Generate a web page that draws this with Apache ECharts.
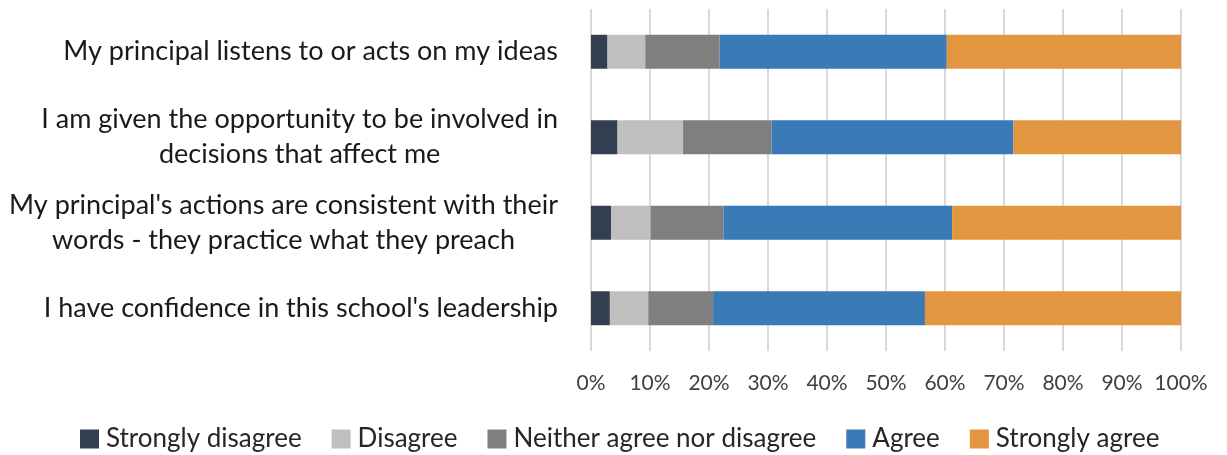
<!DOCTYPE html>
<html>
<head>
<meta charset="utf-8">
<script src="https://cdn.jsdelivr.net/npm/echarts@6/dist/echarts.min.js"></script>
<style>html,body{margin:0;padding:0;background:#fff;}#c{width:1227px;height:455px;}</style>
</head>
<body>
<div id="c"></div>
<script>
var categories = [
  "My principal listens to or acts on my ideas",
  "I am given the opportunity to be involved in\ndecisions that affect me",
  "My principal's actions are consistent with their\nwords - they practice what they preach",
  "I have confidence in this school's leadership"
];
var seriesNames = ["Strongly disagree", "Disagree", "Neither agree nor disagree", "Agree", "Strongly agree"];
var stronglyDisagree = [2.8, 4.5, 3.4, 3.2];
var disagree = [6.4, 11.1, 6.7, 6.5];
var neither = [12.6, 15.0, 12.4, 11.0];
var agree = [38.5, 41.0, 38.7, 35.9];
var stronglyAgree = [39.7, 28.4, 38.8, 43.4];
var tickValues = [0, 10, 20, 30, 40, 50, 60, 70, 80, 90, 100];

var colors = ["#333F50", "#BFBFBF", "#7F7F7F", "#3A7AB7", "#E2963F"];
var FONT = "Lato";
var allData = [stronglyDisagree, disagree, neither, agree, stronglyAgree];

var chart = echarts.init(document.getElementById('c'), null, {renderer: 'canvas'});
chart.setOption({
  animation: false,
  color: colors,
  textStyle: {fontFamily: FONT},
  grid: {left: 591, right: 46, top: 9, bottom: 104, containLabel: false},
  xAxis: {
    type: 'value', min: tickValues[0], max: tickValues[tickValues.length - 1], interval: 10,
    axisLine: {show: false}, axisTick: {show: false},
    splitLine: {show: true, lineStyle: {color: '#D9D9D9', width: 2}},
    axisLabel: {formatter: '{value}%', color: '#404040', fontSize: 21, fontFamily: FONT, margin: 22}
  },
  yAxis: {
    type: 'category', data: categories, inverse: true,
    axisLine: {show: false}, axisTick: {show: false},
    axisLabel: {
      margin: 33, align: 'right', color: '#1a1a1a', fontSize: 27, fontFamily: FONT, lineHeight: 35,
      formatter: function (v) {
        return v.split('\n').map(function (l) { return '{c|' + l + '}'; }).join('\n');
      },
      rich: {c: {align: 'center', fontSize: 27, fontFamily: FONT, color: '#1a1a1a', lineHeight: 35}}
    }
  },
  legend: {
    top: 421, left: 75, itemWidth: 19, itemHeight: 19, itemGap: 30,
    icon: 'rect',
    textStyle: {fontSize: 26, color: '#262626', fontFamily: FONT, padding: [0, 0, 0, 2]},
    data: seriesNames
  },
  series: seriesNames.map(function (n, i) {
    return {
      name: n, type: 'bar', stack: 'total', barWidth: 34,
      data: allData[i],
      itemStyle: {color: colors[i]}
    };
  })
});
</script>
</body>
</html>
